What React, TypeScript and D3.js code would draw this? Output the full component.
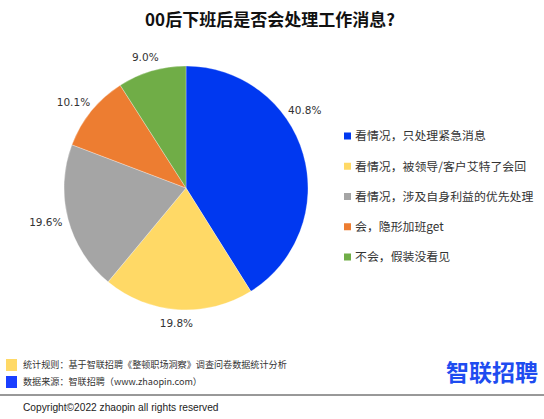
import React from "react";
import * as d3 from "d3";

const categories = [
  "看情况，只处理紧急消息",
  "看情况，被领导/客户艾特了会回",
  "看情况，涉及自身利益的优先处理",
  "会，隐形加班get",
  "不会，假装没看见",
];
const values = [40.8, 19.8, 19.6, 10.1, 9.0];
const colors = ["#0038F0", "#FFD966", "#A5A5A5", "#ED7D31", "#70AD47"];
// label angle adjustment (degrees) mimicking the original's best-fit placement
const labelShift = [-19, 0, 0, 0, 0];

const title = "00后下班后是否会处理工作消息?";
const notes = [
  { text: "统计规则：基于智联招聘《整顿职场洞察》调查问卷数据统计分析", color: "#FFD966" },
  { text: "数据来源：智联招聘（www.zhaopin.com）", color: "#1A3FFF" },
];
const copyright = "Copyright©2022 zhaopin all rights reserved";

const W = 544;
const H = 419;

export default function App() {
  const cx = 186;
  const cy = 188;
  const r = 122;
  const pie = d3
    .pie<number>()
    .sort(null)
    .value((d) => d)
    .startAngle(0)
    .endAngle(2 * Math.PI);
  const arcs = pie(values);
  const arc = d3.arc<d3.PieArcDatum<number>>().innerRadius(0).outerRadius(r);
  const fmt = d3.format(".1f");

  const legendY = d3
    .scalePoint<number>()
    .domain(d3.range(categories.length))
    .range([136, 257]);

  const cjk = "'Noto Sans CJK SC', 'Noto Sans', sans-serif";

  return (
    <svg
      width={W}
      height={H}
      style={{ position: "absolute", left: 0, top: 0, background: "#fff" }}
    >
      <text
        x={270}
        y={26}
        textAnchor="middle"
        fontFamily={cjk}
        fontWeight={700}
        fontSize={17}
        fill="#111"
      >
        {title}
      </text>
      <g transform={`translate(${cx},${cy})`}>
        {arcs.map((a, i) => (
          <path key={i} d={arc(a) || ""} fill={colors[i]} stroke="#fff" strokeWidth={0.3} />
        ))}
        {arcs.map((a, i) => {
          const mid = (a.startAngle + a.endAngle) / 2 + (labelShift[i] * Math.PI) / 180;
          const s = Math.sin(mid);
          const c = Math.cos(mid);
          const x = (r + 8) * s + s * 15;
          const y = -(r + 8) * c - c * 6;
          return (
            <text
              key={i}
              x={x}
              y={y}
              dy="0.35em"
              textAnchor="middle"
              fontFamily="'DejaVu Sans', sans-serif"
              fontSize={10.5}
              fill="#333"
            >
              {fmt(values[i]) + "%"}
            </text>
          );
        })}
      </g>
      {categories.map((c, i) => (
        <g key={i} transform={`translate(344,${legendY(i)})`}>
          <rect x={0} y={-3.5} width={7} height={7} fill={colors[i]} />
          <text x={11} y={0} dy="0.36em" fontFamily={cjk} fontSize={11.9} fill="#333">
            {c}
          </text>
        </g>
      ))}
      {notes.map((n, i) => (
        <g key={i} transform={`translate(6,${359 + i * 17})`}>
          <rect x={0} y={0} width={11} height={12} fill={n.color} />
          <text x={17} y={6} dy="0.36em" fontFamily={cjk} fontSize={9.1} fill="#333">
            {n.text}
          </text>
        </g>
      ))}
      <text
        x={538}
        y={381}
        textAnchor="end"
        fontFamily={cjk}
        fontWeight={700}
        fontSize={23}
        fill="#1E4CF0"
      >
        智联招聘
      </text>
      <line x1={0} x2={544} y1={395} y2={395} stroke="#333" strokeWidth={1} />
      <text
        x={23}
        y={407}
        dy="0.36em"
        fontFamily="'Liberation Sans', Arial, sans-serif"
        fontSize={10.2}
        fill="#222"
      >
        {copyright}
      </text>
    </svg>
  );
}
